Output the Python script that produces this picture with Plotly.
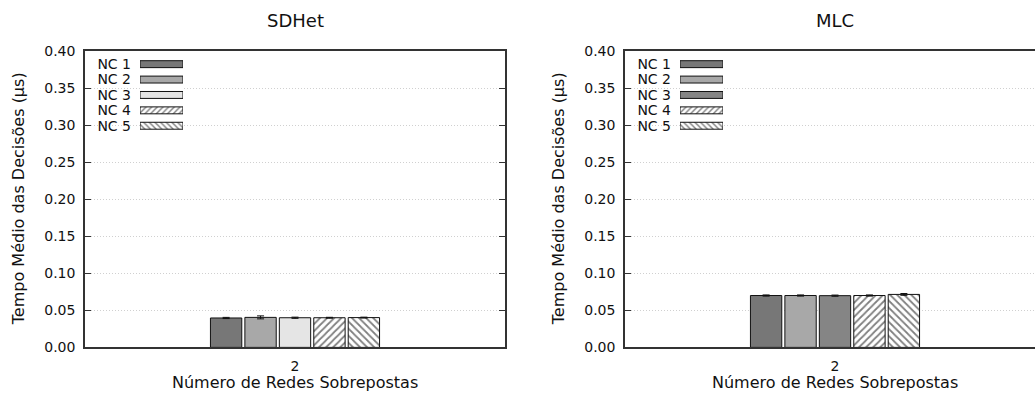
import plotly.graph_objects as go

W, H = 1035, 398

categories = ["2"]
series_names = ["NC 1", "NC 2", "NC 3", "NC 4", "NC 5"]
sdhet_values = [0.0397, 0.0405, 0.0400, 0.0400, 0.0402]
sdhet_errors = [0.0008, 0.0020, 0.0008, 0.0006, 0.0006]
mlc_values = [0.0700, 0.0700, 0.0698, 0.0700, 0.0715]
mlc_errors = [0.0008, 0.0008, 0.0008, 0.0008, 0.0012]
panel_titles = ["SDHet", "MLC"]
x_title = "Número de Redes Sobrepostas"
y_title = "Tempo Médio das Decisões (µs)"

sdhet_colors = ["#777777", "#a8a8a8", "#e5e5e5", "#ffffff", "#ffffff"]
mlc_colors = ["#777777", "#a8a8a8", "#858585", "#ffffff", "#ffffff"]
patterns = ["", "", "", "/", "\\"]

FONT = "DejaVu Sans"
FS = 14        # tick labels and legend
FS_AX = 16     # axis titles
FS_T = 18      # panel titles
TXT = "#111111"


def px(x):
    return x / W


def py(y):
    return 1 - y / H


fig = go.Figure()

panels = [
    dict(vals=sdhet_values, errs=sdhet_errors, colors=sdhet_colors, xa="x", ya="y",
         lxa="x3", lya="y3", cx=295, ytx=18),
    dict(vals=mlc_values, errs=mlc_errors, colors=mlc_colors, xa="x2", ya="y2",
         lxa="x4", lya="y4", cx=835, ytx=558),
]

for p in panels:
    for i, name in enumerate(series_names):
        fig.add_trace(go.Bar(
            x=categories, y=[p["vals"][i]], name=name,
            xaxis=p["xa"], yaxis=p["ya"], showlegend=False,
            marker=dict(color=p["colors"][i],
                        line=dict(color="#111111", width=1),
                        pattern=dict(shape=patterns[i], fgcolor="#000000",
                                     bgcolor="#ffffff", size=5, solidity=0.35)),
            error_y=dict(type="data", array=[p["errs"][i]], color="#111111",
                         thickness=1, width=3.5),
        ))
    # legend drawn as a small horizontal-bar axis
    for i, name in enumerate(series_names):
        fig.add_trace(go.Bar(
            y=[name], x=[1], orientation="h", width=0.45,
            xaxis=p["lxa"], yaxis=p["lya"], showlegend=False, hoverinfo="skip",
            marker=dict(color=p["colors"][i],
                        line=dict(color="#111111", width=1),
                        pattern=dict(shape=patterns[i], fgcolor="#000000",
                                     bgcolor="#ffffff", size=4, solidity=0.35)),
        ))

axis_common = dict(showline=True, linecolor="#333333", linewidth=1.5,
                   tickfont=dict(family=FONT, size=FS, color=TXT))

yaxis_common = dict(
    range=[0, 0.40], dtick=0.05, tickformat=".2f", ticks="inside", ticklen=6,
    tickcolor="#333333", showgrid=True, gridcolor="#d0d0d0", griddash="1px,2px",
    gridwidth=1, zeroline=False, ticklabelstandoff=5,
    **axis_common)

xaxis_common = dict(
    type="category", ticks="", showgrid=False, zeroline=False,
    ticklabelstandoff=5,
    **axis_common)

# vertical placement (page pixels)
TOP, BOTTOM = 44.8, 353.6
legend_y = [py(130.7), py(50.5)]

legend_y_axis = dict(
    domain=legend_y, autorange="reversed", type="category", showline=False,
    ticks="", showgrid=False, tickmode="array", tickvals=series_names,
    ticktext=series_names, ticklabelstandoff=8,
    tickfont=dict(family=FONT, size=FS, color=TXT))

fig.update_layout(
    width=W, height=H,
    margin=dict(l=0, r=0, t=0, b=0),
    paper_bgcolor="white", plot_bgcolor="white",
    barmode="group", bargap=0.59, bargroupgap=0.09,
    font=dict(family=FONT, size=FS, color=TXT),
    xaxis=dict(domain=[px(85), px(505)], range=[-0.5, 0.5], mirror=True,
               anchor="y", **xaxis_common),
    yaxis=dict(domain=[py(BOTTOM), py(TOP)], anchor="x", mirror="allticks",
               **yaxis_common),
    xaxis2=dict(domain=[px(625), 1.0], range=[-0.5, 0.5 - 10 / 420], mirror=True,
                anchor="y2", **xaxis_common),
    yaxis2=dict(domain=[py(BOTTOM), py(TOP)], anchor="x2", mirror=False,
                **yaxis_common),
    xaxis3=dict(domain=[px(140), px(183)], range=[0, 1], visible=False,
                anchor="y3"),
    yaxis3=dict(anchor="x3", **legend_y_axis),
    xaxis4=dict(domain=[px(680), px(723)], range=[0, 1], visible=False,
                anchor="y4"),
    yaxis4=dict(anchor="x4", **legend_y_axis),
)

for t, p in zip(panel_titles, panels):
    fig.add_annotation(text=t, x=px(p["cx"]), y=py(13.5), xref="paper",
                       yref="paper", showarrow=False, xanchor="center",
                       yanchor="middle", font=dict(family=FONT, size=FS_T, color=TXT))
    fig.add_annotation(text=x_title, x=px(p["cx"]), y=py(390), xref="paper",
                       yref="paper", showarrow=False, xanchor="center",
                       yanchor="middle", font=dict(family=FONT, size=FS_AX, color=TXT))
    fig.add_annotation(text=y_title, x=px(p["ytx"]), y=py((TOP + BOTTOM) / 2),
                       xref="paper", yref="paper", showarrow=False, textangle=-90,
                       xanchor="center", yanchor="middle",
                       font=dict(family=FONT, size=FS_AX, color=TXT))

fig.write_html(
    "out.html",
    config={"displayModeBar": False},
    post_script="document.body.style.margin='0px';"
                "document.body.style.overflow='hidden';",
)
